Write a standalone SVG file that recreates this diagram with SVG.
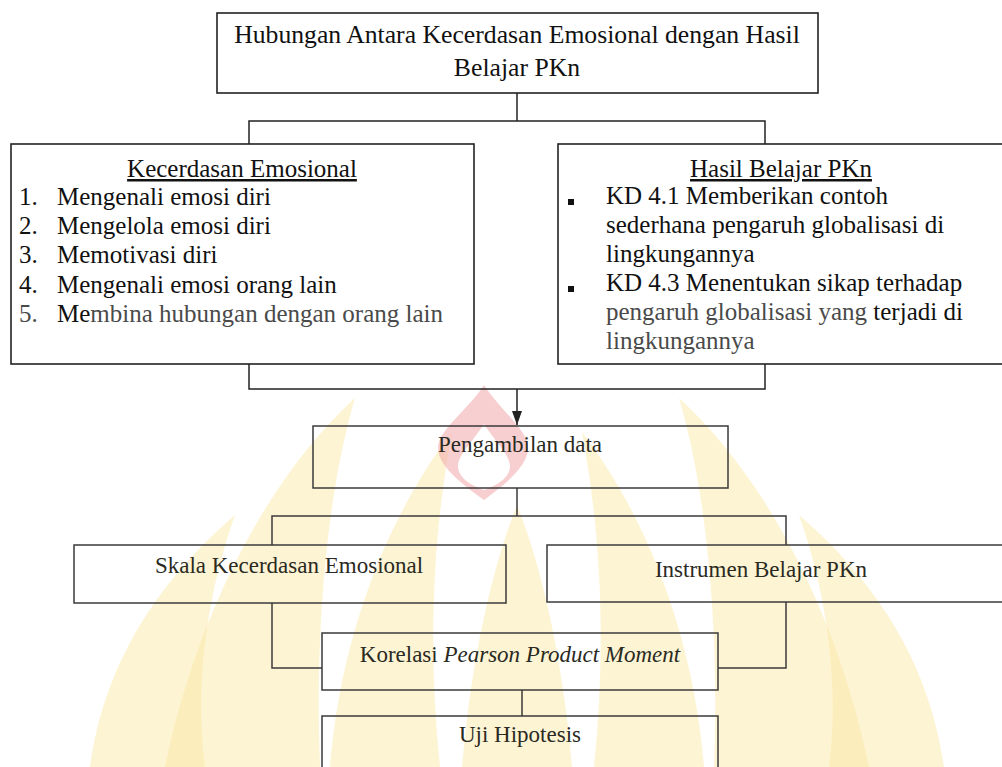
<svg xmlns="http://www.w3.org/2000/svg" width="1002" height="767" viewBox="0 0 1002 767">
  <style>
    .box { fill: none; stroke: #222; stroke-width: 1.6; }
    .lbox { fill: none; stroke: #3a3a3a; stroke-width: 1.5; }
    .conn { fill: none; stroke: #222; stroke-width: 1.5; }
    .lconn { fill: none; stroke: #3a3a3a; stroke-width: 1.5; }
    .t { font-family: "Liberation Serif", "Times New Roman", serif; font-size: 25px; fill: #111; }
    .tt { font-size: 25.7px; }
    .lt { font-family: "Liberation Serif", "Times New Roman", serif; font-size: 23px; fill: #2a2a22; }
    .gray { fill: #4a4a4a; }
    .wmY { fill: #FBE7A0; opacity: 0.45; }
    .wmR { fill: #F2A7AC; opacity: 0.55; }
  </style>
  <defs>
    <marker id="arrow" markerWidth="14" markerHeight="10" refX="14" refY="5" orient="auto" markerUnits="userSpaceOnUse" viewBox="0 0 14 10">
      <path d="M0 0 L14 5 L0 10 Z" fill="#222"/>
    </marker>
  </defs>
  <rect x="0" y="0" width="1002" height="767" fill="#fff"/>

  <g id="watermark">
    <path class="wmY" d="M 90 767 C 105 660 160 580 235 515 C 205 600 195 690 205 767 Z"/>
    <path class="wmY" d="M 165 767 C 195 620 265 480 355 398 C 325 500 315 640 320 767 Z"/>
    <path class="wmY" d="M 330 767 C 340 640 385 520 452 432 C 432 540 428 650 440 767 Z"/>
    <path class="wmY" d="M 944 767 C 929 660 874 580 799 515 C 829 600 839 690 829 767 Z"/>
    <path class="wmY" d="M 869 767 C 839 620 769 480 679 398 C 709 500 719 640 714 767 Z"/>
    <path class="wmY" d="M 704 767 C 694 640 649 520 582 432 C 602 540 606 650 594 767 Z"/>
    <path class="wmY" d="M 462 767 C 472 650 495 560 517 505 C 539 560 562 650 572 767 Z"/>
    <path class="wmR" fill-rule="evenodd" d="M 484 385 C 500 410 528 430 528 448 C 528 468 500 488 484 500 C 468 488 438 468 438 448 C 438 430 468 410 484 385 Z M 484 424 C 474 440 458 455 458 466 C 458 478 472 486 484 490 C 496 486 510 478 510 466 C 510 455 494 440 484 424 Z"/>
  </g>

  <g id="connectors">
    <path class="conn" d="M517 93 V121"/>
    <path class="conn" d="M249 144 V121 H765 V144"/>
    <path class="conn" d="M249 364 V389 H765 V364"/>
    <path class="conn" d="M517 389 V425" marker-end="url(#arrow)"/>
    <path class="lconn" d="M517 488 V516"/>
    <path class="lconn" d="M272 545 V516 H786 V545"/>
    <path class="lconn" d="M272 603 V668 H322"/>
    <path class="lconn" d="M786 602 V668 H718"/>
    <path class="lconn" d="M522 690 V716"/>
  </g>

  <g id="node-title">
    <rect class="box" x="217" y="13" width="601" height="80"/>
    <text class="t tt" x="517" y="43" text-anchor="middle">Hubungan Antara Kecerdasan Emosional dengan Hasil</text>
    <text class="t tt" x="517" y="76" text-anchor="middle">Belajar PKn</text>
  </g>

  <g id="node-kecerdasan">
    <rect class="box" x="11" y="144" width="463" height="220"/>
    <text class="t" x="242" y="177" text-anchor="middle" text-decoration="underline">Kecerdasan Emosional</text>
    <text class="t" x="19" y="205">1.</text>
    <text class="t" x="57" y="205">Mengenali emosi diri</text>
    <text class="t" x="19" y="234">2.</text>
    <text class="t" x="57" y="234">Mengelola emosi diri</text>
    <text class="t" x="19" y="263">3.</text>
    <text class="t" x="57" y="263">Memotivasi diri</text>
    <text class="t" x="19" y="293">4.</text>
    <text class="t" x="57" y="293">Mengenali emosi orang lain</text>
    <text class="t gray" x="19" y="322">5.</text>
    <text class="t" x="57" y="322">Me<tspan class="gray">mbina hubungan dengan orang lain</tspan></text>
  </g>

  <g id="node-hasil">
    <rect class="box" x="558" y="144" width="460" height="220"/>
    <text class="t" x="781" y="177" text-anchor="middle" text-decoration="underline">Hasil Belajar PKn</text>
    <rect x="568" y="199" width="6" height="6" fill="#111"/>
    <text class="t" x="606" y="204">KD 4.1 Memberikan contoh</text>
    <text class="t" x="606" y="233">sederhana pengaruh globalisasi di</text>
    <text class="t" x="606" y="262">lingkungannya</text>
    <rect x="568" y="286" width="6" height="6" fill="#111"/>
    <text class="t" x="606" y="291">KD 4.3 Menentukan sikap terhadap</text>
    <text class="t" x="606" y="320"><tspan class="gray">pengaruh globalisasi yang </tspan>terjadi di</text>
    <text class="t gray" x="606" y="349">lingkungannya</text>
  </g>

  <g id="node-pengambilan">
    <rect class="lbox" x="313" y="426" width="415" height="62"/>
    <text class="lt" x="520" y="452" text-anchor="middle">Pengambilan data</text>
  </g>

  <g id="node-skala">
    <rect class="lbox" x="74" y="545" width="432" height="58"/>
    <text class="lt" x="289" y="573" text-anchor="middle">Skala Kecerdasan Emosional</text>
  </g>

  <g id="node-instrumen">
    <rect class="lbox" x="547" y="545" width="470" height="57"/>
    <text class="lt" x="761" y="577" text-anchor="middle">Instrumen Belajar PKn</text>
  </g>

  <g id="node-korelasi">
    <rect class="lbox" x="322" y="633" width="396" height="57"/>
    <text class="lt" x="520" y="662" text-anchor="middle">Korelasi <tspan font-style="italic">Pearson Product Moment</tspan></text>
  </g>

  <g id="node-uji">
    <rect class="lbox" x="322" y="716" width="396" height="70"/>
    <text class="lt" x="520" y="742" text-anchor="middle">Uji Hipotesis</text>
  </g>
</svg>
